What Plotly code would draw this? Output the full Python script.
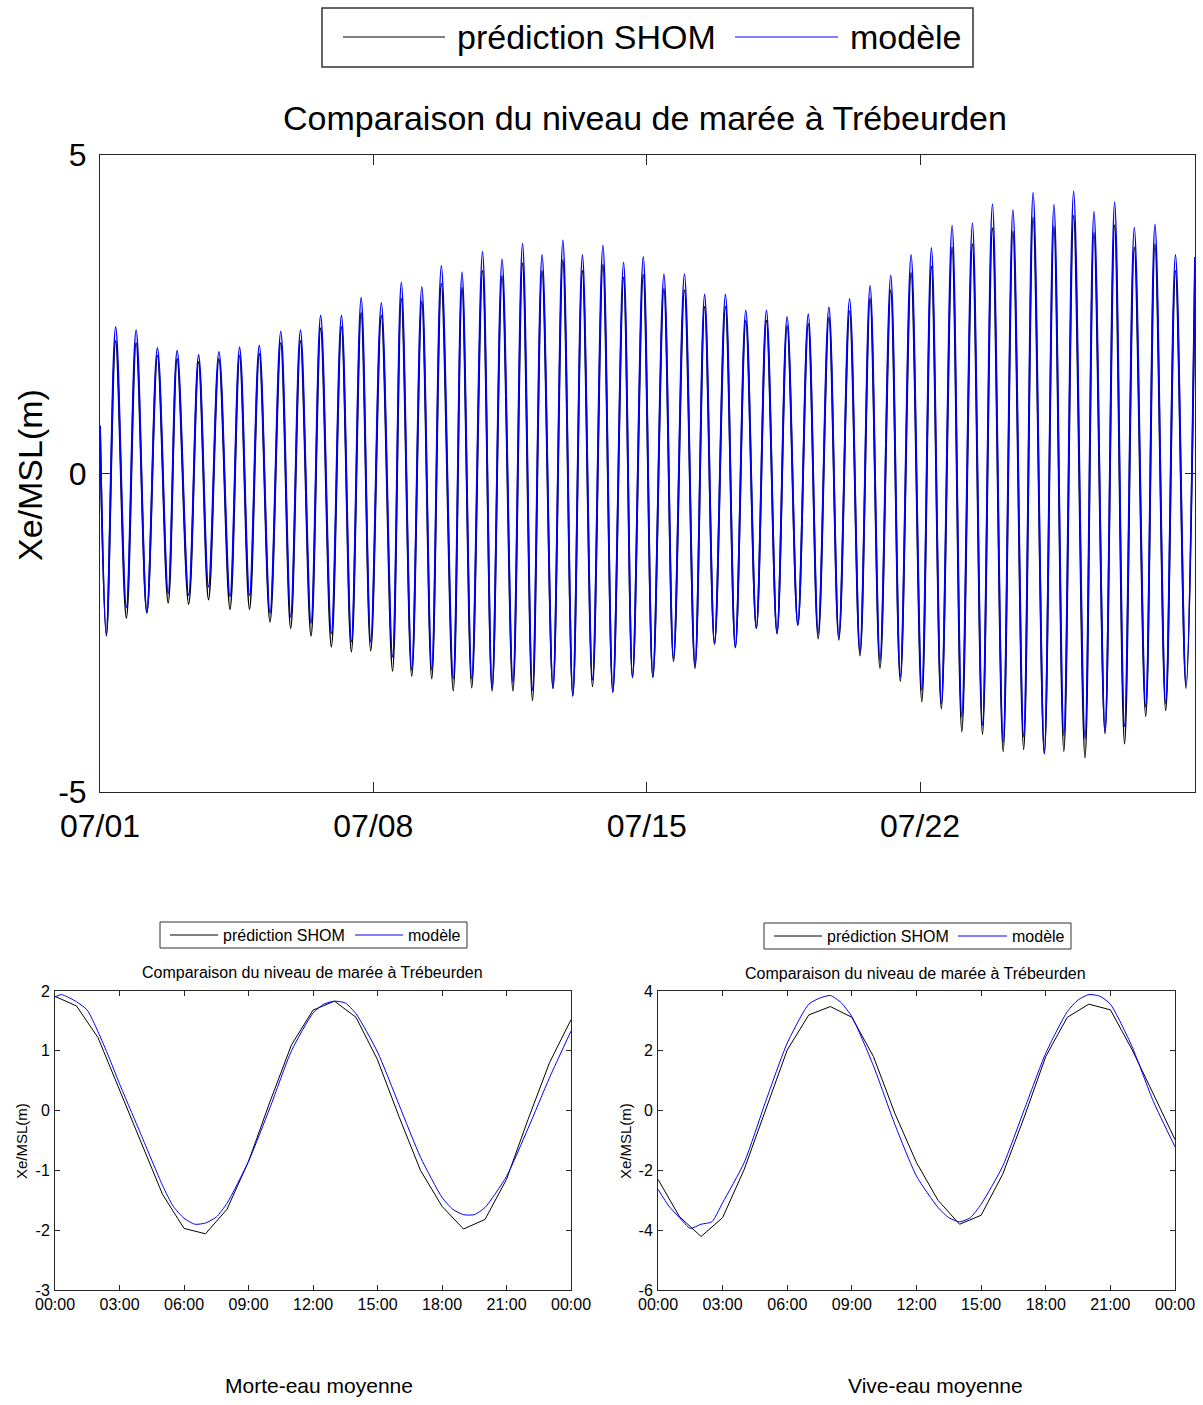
import plotly.graph_objects as go

# ---------------- DATA ----------------
# Main chart: July tide series (hours since 07/01 00:00), extremes
start_hour = 0.0
start_level = 0.75
end_hour = 673.0
end_level_model = 3.40
end_level_shom = 3.20

lw_hours = [3.9, 16.2, 28.8, 41.9, 54.5, 66.7, 79.9, 91.9, 104.5, 117.2,
            129.7, 142.2, 154.5, 166.4, 179.8, 191.6, 203.9, 217.1, 228.5, 241.0,
            253.8, 265.8, 278.4, 290.6, 302.7, 315.2, 327.3, 339.8, 352.5, 365.7,
            377.7, 390.5, 403.4, 416.1, 428.9, 441.4, 454.1, 467.1, 479.4, 491.9,
            505.1, 517.1, 529.7, 542.4, 555.1, 567.7, 580.4, 592.4, 605.4, 617.7,
            629.7, 642.7, 655.0, 667.5]
hw_hours = [9.6, 22.2, 35.3, 47.4, 60.6, 73.1, 85.8, 97.9, 111.1, 123.2,
            135.6, 148.4, 160.5, 172.9, 185.2, 197.8, 209.8, 222.5, 235.1, 247.1,
            259.7, 271.7, 284.5, 296.5, 309.1, 321.8, 333.9, 346.6, 359.2, 371.6,
            384.4, 396.9, 409.6, 422.3, 435.3, 448.0, 460.7, 473.3, 486.0, 498.5,
            511.0, 523.7, 536.2, 548.5, 561.1, 573.5, 586.3, 598.4, 610.9, 623.6,
            635.7, 648.4, 661.0]

hw_model = [2.30, 2.25, 1.97, 1.93, 1.86, 1.91, 1.98, 2.01, 2.23, 2.25,
            2.48, 2.48, 2.76, 2.68, 3.00, 2.93, 3.26, 3.16, 3.48, 3.36,
            3.61, 3.43, 3.66, 3.43, 3.58, 3.31, 3.40, 3.13, 3.13, 2.81,
            2.81, 2.56, 2.56, 2.46, 2.50, 2.61, 2.74, 2.95, 3.11, 3.43,
            3.54, 3.89, 3.93, 4.23, 4.14, 4.41, 4.22, 4.43, 4.11, 4.26,
            3.86, 3.91, 3.43]
hw_shom = [2.08, 2.05, 1.85, 1.80, 1.75, 1.80, 1.85, 1.88, 2.05, 2.08,
           2.28, 2.30, 2.52, 2.48, 2.75, 2.70, 2.98, 2.92, 3.18, 3.10,
           3.30, 3.18, 3.35, 3.18, 3.28, 3.08, 3.12, 2.90, 2.88, 2.62,
           2.62, 2.40, 2.40, 2.32, 2.35, 2.45, 2.55, 2.75, 2.88, 3.15,
           3.25, 3.55, 3.60, 3.85, 3.80, 4.02, 3.88, 4.05, 3.78, 3.90,
           3.55, 3.60, 3.18]
lw_model = [-2.51, -2.10, -2.17, -1.88, -1.91, -1.78, -1.93, -1.91, -2.19, -2.25,
            -2.35, -2.51, -2.64, -2.64, -2.88, -3.08, -3.08, -3.22, -3.22, -3.37,
            -3.27, -3.40, -3.37, -3.49, -3.24, -3.43, -3.20, -3.19, -2.90, -3.02,
            -2.67, -2.73, -2.43, -2.51, -2.38, -2.51, -2.56, -2.80, -2.93, -3.19,
            -3.40, -3.61, -3.82, -3.95, -4.21, -4.13, -4.39, -4.11, -4.16, -4.05,
            -3.97, -3.66, -3.61, -3.32]
lw_shom = [-2.55, -2.27, -2.19, -2.03, -2.05, -1.98, -2.13, -2.13, -2.33, -2.43,
           -2.55, -2.72, -2.80, -2.78, -3.10, -3.18, -3.22, -3.41, -3.36, -3.41,
           -3.41, -3.56, -3.37, -3.49, -3.34, -3.43, -3.20, -3.20, -2.95, -3.06,
           -2.68, -2.73, -2.43, -2.51, -2.38, -2.59, -2.61, -2.86, -3.06, -3.26,
           -3.58, -3.69, -4.05, -4.09, -4.36, -4.33, -4.40, -4.36, -4.46, -4.08,
           -4.24, -3.81, -3.72, -3.37]

main_tickvals = [0, 168, 336, 504]
main_ticktext = ["07/01", "07/08", "07/15", "07/22"]
main_ytickvals = [-5, 0, 5]
main_yticktext = ["-5", "0", "5"]

# Morte-eau moyenne (hours of the day)
me_shom_hours = list(range(25))
me_shom = [1.91, 1.75, 1.22, 0.35, -0.50, -1.40, -1.97, -2.06, -1.65, -0.85,
           0.15, 1.10, 1.68, 1.83, 1.56, 0.85, -0.10, -1.00, -1.60, -1.98,
           -1.82, -1.15, -0.15, 0.80, 1.52]
me_model_hours = [0, 0.3, 1, 1.5, 2, 2.5, 3, 4, 5, 5.5, 6, 6.5, 7, 7.5, 8, 9, 10, 11, 12,
                  12.5, 13, 13.5, 14, 15, 16, 17, 18, 18.5, 19, 19.5, 20, 21, 22, 23, 24]
me_model = [1.90, 1.94, 1.82, 1.68, 1.32, 0.90, 0.45, -0.40, -1.25, -1.60, -1.80, -1.90,
            -1.88, -1.78, -1.55, -0.85, 0.05, 1.00, 1.63, 1.78, 1.83, 1.80, 1.62, 0.98,
            0.10, -0.78, -1.45, -1.65, -1.74, -1.74, -1.62, -1.10, -0.30, 0.55, 1.33]
me_ytickvals = [-3, -2, -1, 0, 1, 2]
me_yticktext = ["-3", "-2", "-1", "0", "1", "2"]

# Vive-eau moyenne
ve_shom_hours = list(range(25))
ve_shom = [-2.30, -3.55, -4.21, -3.58, -1.97, 0.03, 2.03, 3.20, 3.48, 3.12,
           1.81, -0.10, -1.74, -3.00, -3.80, -3.50, -2.13, -0.22, 1.81, 3.12,
           3.56, 3.37, 2.05, 0.55, -0.97]
ve_model_hours = [0, 0.5, 1, 1.5, 2, 2.5, 3, 4, 5, 6, 7, 7.5, 8, 8.5, 9, 10, 11, 12, 13,
                  13.5, 14, 14.5, 15, 16, 17, 18, 19, 19.5, 20, 20.5, 21, 22, 23, 24]
ve_model = [-2.63, -3.19, -3.58, -3.94, -3.80, -3.72, -3.08, -1.74, 0.31, 2.26, 3.56,
            3.76, 3.85, 3.61, 3.14, 1.50, -0.47, -2.19, -3.24, -3.58, -3.72, -3.58,
            -3.13, -1.86, 0.03, 1.92, 3.31, 3.70, 3.88, 3.83, 3.56, 2.15, 0.30, -1.21]
ve_ytickvals = [-6, -4, -2, 0, 2, 4]
ve_yticktext = ["-6", "-4", "-2", "0", "2", "4"]

small_tickvals = [0, 3, 6, 9, 12, 15, 18, 21, 24]
small_ticktext = ["00:00", "03:00", "06:00", "09:00", "12:00", "15:00", "18:00", "21:00", "00:00"]

name_shom = "prédiction SHOM"
name_model = "modèle"
title_text = "Comparaison du niveau de marée à Trébeurden"
ytitle = "Xe/MSL(m)"
caption_left = "Morte-eau moyenne"
caption_right = "Vive-eau moyenne"

# ---------------- BUILD ----------------
W, H = 1203, 1405
FONT = "Liberation Sans, Arial, Helvetica, sans-serif"


def fx(px):
    return px / W


def fy(py):
    return 1 - py / H


def series(lw_t, lw_v, hw_t, hw_v, end_v):
    xs, ys = [start_hour], [start_level]
    for i in range(len(lw_t)):
        xs.append(lw_t[i]); ys.append(lw_v[i])
        if i < len(hw_t):
            xs.append(hw_t[i]); ys.append(hw_v[i])
    xs.append(end_hour); ys.append(end_v)
    return xs, ys


xs_s, ys_s = series(lw_hours, lw_shom, hw_hours, hw_shom, end_level_shom)
xs_m, ys_m = series(lw_hours, lw_model, hw_hours, hw_model, end_level_model)

fig = go.Figure()
fig.add_trace(go.Scatter(x=xs_s, y=ys_s, mode="lines", name=name_shom,
                         line=dict(color="black", width=1.8, shape="spline", smoothing=1.0),
                         xaxis="x", yaxis="y", showlegend=False))
fig.add_trace(go.Scatter(x=xs_m, y=ys_m, mode="lines", name=name_model,
                         line=dict(color="#0000FF", width=1.8, shape="spline", smoothing=1.0),
                         xaxis="x", yaxis="y", showlegend=False))

fig.add_trace(go.Scatter(x=me_shom_hours, y=me_shom, mode="lines", name=name_shom,
                         line=dict(color="black", width=1), xaxis="x2", yaxis="y2", showlegend=False))
fig.add_trace(go.Scatter(x=me_model_hours, y=me_model, mode="lines", name=name_model,
                         line=dict(color="#0000FF", width=1, shape="spline", smoothing=0.6),
                         xaxis="x2", yaxis="y2", showlegend=False))
fig.add_trace(go.Scatter(x=ve_shom_hours, y=ve_shom, mode="lines", name=name_shom,
                         line=dict(color="black", width=1), xaxis="x3", yaxis="y3", showlegend=False))
fig.add_trace(go.Scatter(x=ve_model_hours, y=ve_model, mode="lines", name=name_model,
                         line=dict(color="#0000FF", width=1, shape="spline", smoothing=0.6),
                         xaxis="x3", yaxis="y3", showlegend=False))

axis_common = dict(showgrid=False, zeroline=False, showline=True, linecolor="#262626",
                   linewidth=1, mirror="ticks", ticks="inside", tickcolor="#262626",
                   tickwidth=1, automargin=False)

fig.update_layout(
    template="none",
    width=W, height=H, autosize=False,
    margin=dict(l=0, r=0, t=0, b=0, pad=0),
    paper_bgcolor="white", plot_bgcolor="white",
    font=dict(family=FONT, color="black"),
    xaxis=dict(domain=[fx(100), fx(1195)], range=[0, end_hour], tickvals=main_tickvals,
               ticktext=main_ticktext, ticklen=10, tickfont=dict(size=32),
               ticklabelstandoff=6, anchor="y", **axis_common),
    yaxis=dict(domain=[fy(792), fy(155)], range=[-5, 5], tickvals=main_ytickvals,
               ticktext=main_yticktext, ticklen=10, tickfont=dict(size=32),
               ticklabelstandoff=6, anchor="x", **axis_common),
    xaxis2=dict(domain=[fx(55), fx(571)], range=[0, 24], tickvals=small_tickvals,
                ticktext=small_ticktext, ticklen=5, tickfont=dict(size=16),
                ticklabelstandoff=0, anchor="y2", **axis_common),
    yaxis2=dict(domain=[fy(1290), fy(991)], range=[-3, 2], tickvals=me_ytickvals,
                ticktext=me_yticktext, ticklen=5, tickfont=dict(size=16),
                ticklabelstandoff=1, anchor="x2", **axis_common),
    xaxis3=dict(domain=[fx(658), fx(1175)], range=[0, 24], tickvals=small_tickvals,
                ticktext=small_ticktext, ticklen=5, tickfont=dict(size=16),
                ticklabelstandoff=0, anchor="y3", **axis_common),
    yaxis3=dict(domain=[fy(1290), fy(991)], range=[-6, 4], tickvals=ve_ytickvals,
                ticktext=ve_yticktext, ticklen=5, tickfont=dict(size=16),
                ticklabelstandoff=1, anchor="x3", **axis_common),
)

shapes = []
annotations = []


def legend_box(x0, x1, y0, y1, l1, t1, l2, t2, ymid, size, bw):
    shapes.append(dict(type="rect", xref="paper", yref="paper", x0=fx(x0), x1=fx(x1),
                       y0=fy(y1), y1=fy(y0), line=dict(color="#333333", width=bw),
                       fillcolor="white", layer="above"))
    shapes.append(dict(type="line", xref="paper", yref="paper", x0=fx(l1[0]), x1=fx(l1[1]),
                       y0=fy(ymid), y1=fy(ymid), line=dict(color="black", width=1)))
    shapes.append(dict(type="line", xref="paper", yref="paper", x0=fx(l2[0]), x1=fx(l2[1]),
                       y0=fy(ymid), y1=fy(ymid), line=dict(color="#0000FF", width=1)))
    annotations.append(dict(xref="paper", yref="paper", x=fx(t1), y=fy(ymid), text=name_shom,
                            showarrow=False, xanchor="left", yanchor="middle",
                            font=dict(size=size, family=FONT, color="black")))
    annotations.append(dict(xref="paper", yref="paper", x=fx(t2), y=fy(ymid), text=name_model,
                            showarrow=False, xanchor="left", yanchor="middle",
                            font=dict(size=size, family=FONT, color="black")))


legend_box(322, 973, 8, 67, (343, 445), 455, (735, 838), 848, 37, 34, 1.5)
legend_box(160, 467, 922, 948, (170, 218), 221, (355, 403), 406, 935, 16, 1)
legend_box(764, 1071, 923, 949, (774, 822), 825, (958, 1007), 1010, 936, 16, 1)


def text(x, y, s, size, angle=0):
    annotations.append(dict(xref="paper", yref="paper", x=fx(x), y=fy(y), text=s,
                            showarrow=False, xanchor="center", yanchor="middle",
                            textangle=angle, font=dict(size=size, family=FONT, color="black")))


text(645, 118, title_text, 34)
text(312, 972, title_text, 16)
text(916, 973, title_text, 16)
text(30, 475, ytitle, 34, -90)
text(21, 1141, ytitle, 15, -90)
text(625, 1141, ytitle, 15, -90)
text(319, 1385, caption_left, 21)
text(936, 1385, caption_right, 21)

fig.update_layout(shapes=shapes, annotations=annotations)
fig.write_html("out.html", config={"displayModeBar": False},
               post_script="document.body.style.margin='0';document.body.style.padding='0';")
